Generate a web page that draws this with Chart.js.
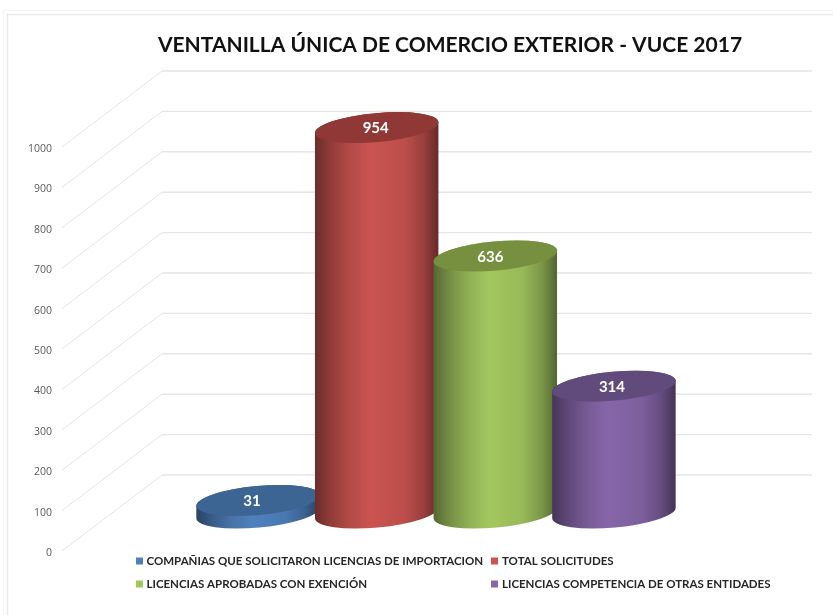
<!DOCTYPE html>
<html lang="es">
<head>
<meta charset="utf-8">
<title>VUCE 2017</title>
<style>
html,body{margin:0;padding:0;background:#fff;overflow:hidden}
canvas{display:block}
</style>
<script src="https://cdn.jsdelivr.net/npm/chart.js@4/dist/chart.umd.min.js"></script>
</head>
<body>
<canvas id="c" width="833" height="615"></canvas>
<script>
const chartTitle = 'VENTANILLA ÚNICA DE COMERCIO EXTERIOR - VUCE 2017';
const categories = ['VUCE 2017'];
const seriesNames = [
  'COMPAÑIAS QUE SOLICITARON LICENCIAS DE IMPORTACION',
  'TOTAL SOLICITUDES',
  'LICENCIAS APROBADAS CON EXENCIÓN',
  'LICENCIAS COMPETENCIA DE OTRAS ENTIDADES'
];
const companias = [31];
const totalSolicitudes = [954];
const aprobadas = [636];
const otrasEntidades = [314];
const seriesValues = [companias, totalSolicitudes, aprobadas, otrasEntidades];
const yTicksMin = 0, yTicksMax = 1000, yTickStep = 100;

const bodyColors = ['#4F81BD', '#CB5451', '#A3C75F', '#8666A9'];
const capColors = ['#3C6593', '#8F3836', '#76903F', '#614A7C'];
const labelShift = [-6, -1, -5, -2];
const legendCols = [{mark: 136, text: 146.5}, {mark: 491, text: 502}];
const legendRows = [561, 584];
const depthX = 100, depthY = 76, backRight = 812, barDepthX = 49;

function shade(hex, f) {
  const n = parseInt(hex.slice(1), 16);
  const c = [n >> 16, (n >> 8) & 255, n & 255].map(v => Math.round(v * f));
  return `rgb(${c[0]},${c[1]},${c[2]})`;
}

const scenePlugin = {
  id: 'scene',
  afterLayout(chart) {
    chart.titleBlock.left += 94;
    chart.titleBlock.right += 94;
  },
  beforeDraw(chart) {
    const ctx = chart.ctx;
    ctx.save();
    ctx.lineWidth = 1;
    ctx.strokeStyle = '#f6f6f6';
    ctx.beginPath();
    ctx.moveTo(3.5, 615); ctx.lineTo(3.5, 10.5); ctx.lineTo(833, 10.5);
    ctx.stroke();
    ctx.lineWidth = 1.5;
    ctx.strokeStyle = '#e9e9e9';
    ctx.beginPath();
    ctx.moveTo(7.5, 615); ctx.lineTo(7.5, 14.5); ctx.lineTo(833, 14.5);
    ctx.stroke();
    // Walls: every tick of the value axis runs back in depth, then across
    const yScale = chart.scales.y, left = chart.chartArea.left;
    yScale.ticks.forEach(t => {
      const y = yScale.getPixelForValue(t.value);
      ctx.strokeStyle = '#e4e4e4';
      ctx.lineWidth = 1;
      ctx.beginPath();
      ctx.moveTo(left, y);
      ctx.lineTo(left + depthX, y - depthY);
      ctx.stroke();
      ctx.strokeStyle = '#e6e6e6';
      ctx.lineWidth = 1.4;
      ctx.beginPath();
      ctx.moveTo(left + depthX, y - depthY);
      ctx.lineTo(backRight, y - depthY);
      ctx.stroke();
    });
    ctx.restore();
  },
  beforeDatasetsDraw(chart) {
    const ctx = chart.ctx;
    const rot = -5.2 * Math.PI / 180, ry = 14.5;
    chart.data.datasets.forEach((ds, i) => {
      const bar = chart.getDatasetMeta(i).data[0];
      const cx = bar.x + barDepthX;
      const yTop = bar.y - depthY / 2;
      const yBase = bar.base - depthY / 2;
      const rx = bar.width / 2;
      const col = bodyColors[i];
      ctx.save();
      const g = ctx.createLinearGradient(cx - rx, 0, cx + rx, 0);
      g.addColorStop(0, shade(col, 0.52));
      g.addColorStop(0.12, shade(col, 0.7));
      g.addColorStop(0.28, shade(col, 0.88));
      g.addColorStop(0.45, col);
      g.addColorStop(0.72, shade(col, 0.93));
      g.addColorStop(0.88, shade(col, 0.75));
      g.addColorStop(1, shade(col, 0.5));
      ctx.fillStyle = g;
      ctx.beginPath();
      ctx.ellipse(cx, yTop, rx, ry, rot, Math.PI, 2 * Math.PI);
      ctx.ellipse(cx, yBase, rx, ry, rot, 0, Math.PI);
      ctx.closePath();
      ctx.fill();
      ctx.fillStyle = capColors[i];
      ctx.beginPath();
      ctx.ellipse(cx, yTop, rx, ry, rot, 0, 2 * Math.PI);
      ctx.fill();
      ctx.fillStyle = '#ffffff';
      ctx.font = 'bold 15px Lato';
      ctx.textAlign = 'center';
      ctx.textBaseline = 'middle';
      ctx.fillText(String(ds.data[0]), cx + labelShift[i], yTop + 1);
      ctx.restore();
    });
    return false;
  },
  afterDraw(chart) {
    const ctx = chart.ctx;
    ctx.save();
    ctx.font = 'bold 11.5px Lato';
    ctx.textBaseline = 'middle';
    ctx.textAlign = 'left';
    chart.data.datasets.forEach((ds, i) => {
      const col = legendCols[i % 2], y = legendRows[Math.floor(i / 2)];
      ctx.fillStyle = bodyColors[i];
      ctx.fillRect(col.mark, y - 3.5, 7, 7);
      ctx.fillStyle = '#262626';
      ctx.fillText(ds.label, col.text, y);
    });
    ctx.restore();
  }
};

new Chart(document.getElementById('c'), {
  type: 'bar',
  data: {
    labels: categories,
    datasets: seriesNames.map((name, i) => ({
      label: name,
      data: seriesValues[i],
      backgroundColor: bodyColors[i]
    }))
  },
  options: {
    responsive: false,
    animation: false,
    devicePixelRatio: 1,
    categoryPercentage: 0.73,
    barPercentage: 1.045,
    layout: {padding: {left: 0, right: 121, top: 0, bottom: 64}},
    plugins: {
      legend: {display: false},
      tooltip: {enabled: false},
      title: {
        display: true,
        text: chartTitle,
        color: '#111111',
        font: {family: 'Lato', size: 21, weight: 'bold', lineHeight: 1.2},
        padding: {top: 32.4, bottom: 89.4}
      }
    },
    scales: {
      x: {display: false},
      y: {
        min: yTicksMin,
        max: yTicksMax,
        grid: {display: false, drawTicks: false},
        border: {display: false},
        ticks: {
          stepSize: yTickStep,
          padding: 10,
          labelOffset: 2,
          color: '#595959',
          font: {family: 'Open Sans', size: 10.5},
          callback: v => String(v)
        },
        afterFit(scale) { scale.width = 62; }
      }
    }
  },
  plugins: [scenePlugin]
});
</script>
</body>
</html>
